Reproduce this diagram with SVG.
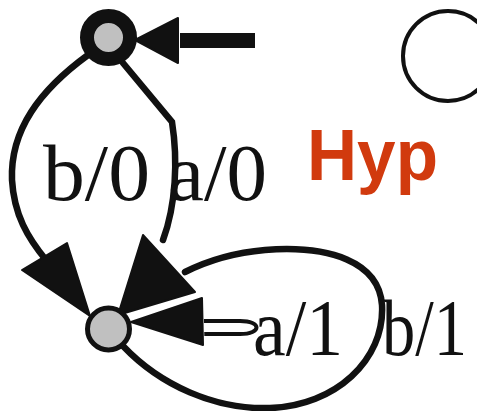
<svg xmlns="http://www.w3.org/2000/svg" width="477" height="411" viewBox="0 0 477 411">
<style>
.edge{fill:none;stroke:#111;stroke-width:6.5;stroke-linecap:round}
.head{fill:#111;stroke:#111;stroke-width:2;stroke-linejoin:round}
.lbl{font-family:"Liberation Serif","Times New Roman",serif;font-size:80px;fill:#111}
.node{fill:#c0c0c0;stroke:#111}
</style>
<rect width="477" height="411" fill="#fff"/>
<g id="connectors">
  <path class="edge" d="M 88 55 C 40 90, 10 130, 12 180 C 14 215, 28 238, 46 260"/>
  <polygon class="head" points="22,270 67,243 90,316"/>
  <path class="edge" d="M 123 63 L 172 122 C 178 160, 176 205, 163 240"/>
  <path class="edge" d="M 123 346 C 160 385, 215 410, 270 408 C 335 406, 385 360, 382 305 C 379 262, 330 245, 265 250 C 230 253, 205 262, 185 272"/>
  <polygon class="head" points="143,235 195,292 118,315"/>
  <path class="edge" style="stroke-width:4" d="M 200 321 L 240 321 C 262 321, 262 334, 240 334 L 200 334"/>
  <polygon class="head" points="202,298 203,345 128,322" style="stroke:#fff;stroke-width:3"/>
  <polygon class="head" points="202,298 203,345 131,322"/>
  <line x1="180" y1="40.5" x2="255" y2="40.5" stroke="#111" stroke-width="15"/>
  <polygon class="head" points="178,18 178,63 135,40"/>
</g>
<g id="q0">
  <circle class="node" cx="108.5" cy="37.5" r="21.5" stroke-width="14"/>
</g>
<g id="q1">
  <circle class="node" cx="108.5" cy="329" r="21" stroke-width="5"/>
</g>
<g id="q2">
  <circle cx="448" cy="56" r="45" fill="none" stroke="#111" stroke-width="4"/>
</g>
<g id="labels">
  <text class="lbl" x="43" y="200" textLength="107" lengthAdjust="spacingAndGlyphs">b/0</text>
  <text class="lbl" x="168" y="200" textLength="99" lengthAdjust="spacingAndGlyphs">a/0</text>
  <text class="lbl" x="253" y="355" textLength="90" lengthAdjust="spacingAndGlyphs">a/1</text>
  <text class="lbl" x="382" y="355" textLength="85" lengthAdjust="spacingAndGlyphs">b/1</text>
  <text x="307" y="180" font-family="'Liberation Sans',Arial,sans-serif" font-weight="bold" font-size="72" fill="#d13a0e" textLength="131" lengthAdjust="spacingAndGlyphs">Hyp</text>
</g>
</svg>
